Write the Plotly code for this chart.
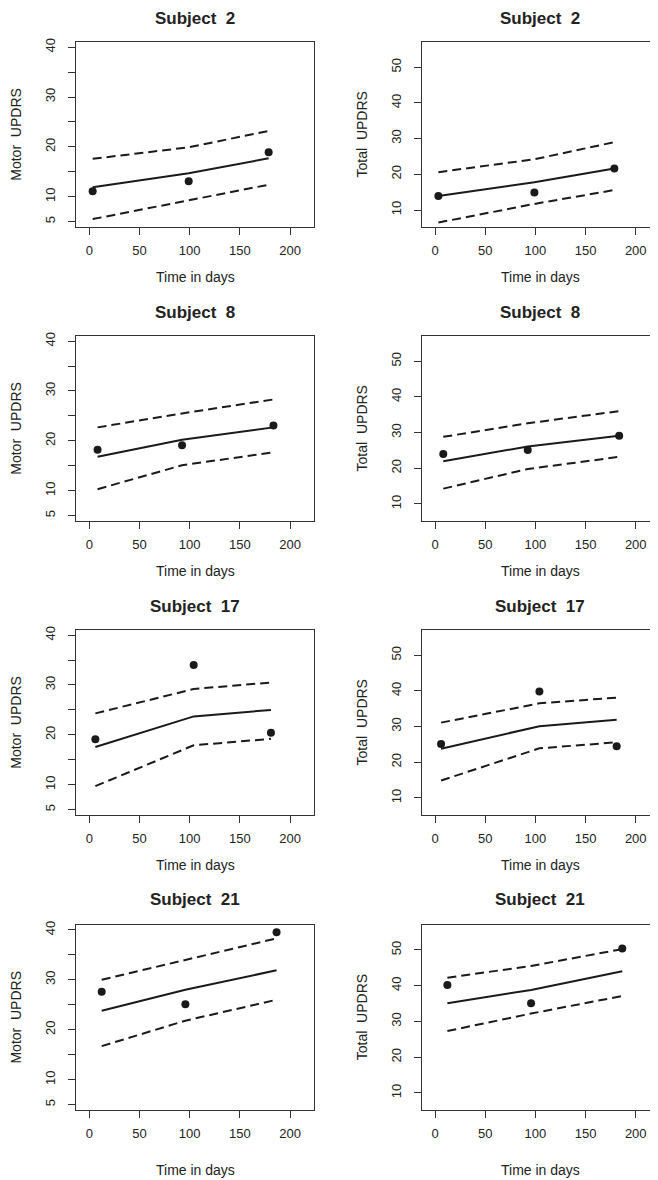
import plotly.graph_objects as go

# ---------------- data ----------------
subjects = ["2", "8", "17", "21"]
days = [[3.3, 99.0, 178.7], [8.2, 92.4, 183.5], [6.0, 104.0, 181.0], [12.3, 95.7, 186.6]]

motor_obs = [[11.1, 13.1, 18.9], [18.2, 19.1, 23.1], [19.1, 34.0, 20.4], [27.6, 25.1, 39.5]]
motor_fit = [[11.9, 14.7, 17.7], [16.8, 20.2, 22.7], [17.55, 23.7, 25.0], [23.8, 28.0, 31.9]]
motor_upper = [[17.6, 19.9, 23.2], [22.7, 25.5, 28.3], [24.3, 29.2, 30.5], [30.0, 33.9, 38.3]]
motor_lower = [[5.5, 9.3, 12.4], [10.3, 15.1, 17.7], [9.7, 17.9, 19.2], [16.7, 21.8, 26.0]]

total_obs = [[13.9, 14.9, 21.6], [24.0, 25.1, 29.1], [25.1, 39.8, 24.5], [40.2, 35.1, 50.4]]
total_fit = [[13.9, 17.8, 21.6], [22.0, 26.1, 29.1], [23.8, 30.1, 31.9], [35.1, 38.8, 44.0]]
total_upper = [[20.6, 24.2, 29.0], [28.8, 32.6, 36.0], [31.1, 36.5, 38.1], [42.2, 45.5, 50.2]]
total_lower = [[6.5, 11.7, 15.6], [14.3, 19.8, 23.2], [14.9, 23.9, 25.6], [27.3, 32.2, 37.1]]

x_ticks = [0, 50, 100, 150, 200]
motor_ticks = [5, 10, 15, 20, 25, 30, 35, 40]
motor_ticktext = ["5", "10", "", "20", "", "30", "", "40"]
total_ticks = [10, 20, 30, 40, 50]
motor_title = "Motor\u00a0 UPDRS"
total_title = "Total\u00a0 UPDRS"
x_title = "Time in days"

# ---------------- layout geometry ----------------
OFF = 8
W, H = 650, 1172
FONT = "Liberation Sans, Arial, Helvetica, sans-serif"
INK = "#1a1a1a"
TXT = "#222222"
AX = "#333333"

col_px = [(76.0, 314.0), (421.7, 658.0)]
x_ranges = [[-13.3, 223.9], [-13.3, 222.2]]
y_ranges = [[3.86, 41.0], [5.17, 56.98]]
row_px = [(38.3, 224.0), (333.3, 519.0), (628.3, 814.0), (924.0, 1110.0)]
title_y = [14.7, 309.7, 604.7, 899.0]
xtitle_y = [274.0, 569.0, 864.0, 1170.0]
ytitle_x = [16.0, 361.7]


def px_x(v):
    return (v - OFF) / W


def px_y(v):
    return 1 - (v - OFF) / H


fig = go.Figure()
layout = dict(
    width=W, height=H,
    margin=dict(l=0, r=0, t=0, b=0),
    paper_bgcolor="white", plot_bgcolor="white",
    showlegend=False,
    font=dict(family=FONT, color=TXT, size=13),
    annotations=[],
)

series = [
    (motor_obs, motor_fit, motor_upper, motor_lower),
    (total_obs, total_fit, total_upper, total_lower),
]

for r in range(4):
    for c in range(2):
        n = r * 2 + c + 1
        xa = "x" if n == 1 else f"x{n}"
        ya = "y" if n == 1 else f"y{n}"
        obs, fit, up, lo = series[c]
        d = days[r]
        for vals, dash in ((up[r], "9px,5px"), (lo[r], "9px,5px"), (fit[r], "solid")):
            fig.add_trace(go.Scatter(x=d, y=vals, mode="lines", xaxis=xa, yaxis=ya,
                                     line=dict(color=INK, width=2, dash=dash),
                                     hoverinfo="skip"))
        fig.add_trace(go.Scatter(x=d, y=obs[r], mode="markers", xaxis=xa, yaxis=ya,
                                 marker=dict(color=INK, size=8)))

        x0, x1 = col_px[c]
        top, bot = row_px[r]
        xdom = [px_x(x0), min(1.0, px_x(x1))]
        ydom = [px_y(bot), px_y(top)]
        xkey = "xaxis" if n == 1 else f"xaxis{n}"
        ykey = "yaxis" if n == 1 else f"yaxis{n}"
        layout[xkey] = dict(
            domain=xdom, range=x_ranges[c], anchor=ya,
            tickvals=x_ticks, ticks="outside", ticklen=7, tickwidth=1, tickcolor=AX,
            showline=True, linecolor=AX, linewidth=1, mirror=True,
            showgrid=False, zeroline=False,
            tickfont=dict(size=13, color=TXT, family=FONT),
            ticklabelstandoff=4,
        )
        if c == 0:
            tv, tt = motor_ticks, motor_ticktext
        else:
            tv, tt = total_ticks, [str(v) for v in total_ticks]
        layout[ykey] = dict(
            domain=ydom, range=y_ranges[c], anchor=xa,
            tickvals=tv, ticktext=tt, ticks="outside", ticklen=7, tickwidth=1, tickcolor=AX,
            showline=True, linecolor=AX, linewidth=1, mirror=(c == 0),
            showgrid=False, zeroline=False, tickangle=-90,
            tickfont=dict(size=13, color=TXT, family=FONT),
            ticklabelstandoff=8,
        )
        cx = (x0 + (x1 if c == 0 else 659.0)) / 2
        layout["annotations"].append(dict(
            text=f"<b>Subject\u00a0 {subjects[r]}</b>", x=px_x(cx),
            y=px_y(title_y[r]), xref="paper", yref="paper", showarrow=False,
            xanchor="center", yanchor="middle", font=dict(size=17, color=TXT, family=FONT)))
        layout["annotations"].append(dict(
            text=x_title, x=px_x(cx),
            y=px_y(xtitle_y[r]), xref="paper", yref="paper", showarrow=False,
            xanchor="center", yanchor="middle", font=dict(size=14, color=TXT, family=FONT)))
        layout["annotations"].append(dict(
            text=motor_title if c == 0 else total_title, x=px_x(ytitle_x[c]),
            y=px_y((top + bot) / 2), xref="paper", yref="paper", showarrow=False,
            textangle=-90, xanchor="center", yanchor="middle",
            font=dict(size=14, color=TXT, family=FONT)))

fig.update_layout(**layout)
fig.write_html("out.html")
